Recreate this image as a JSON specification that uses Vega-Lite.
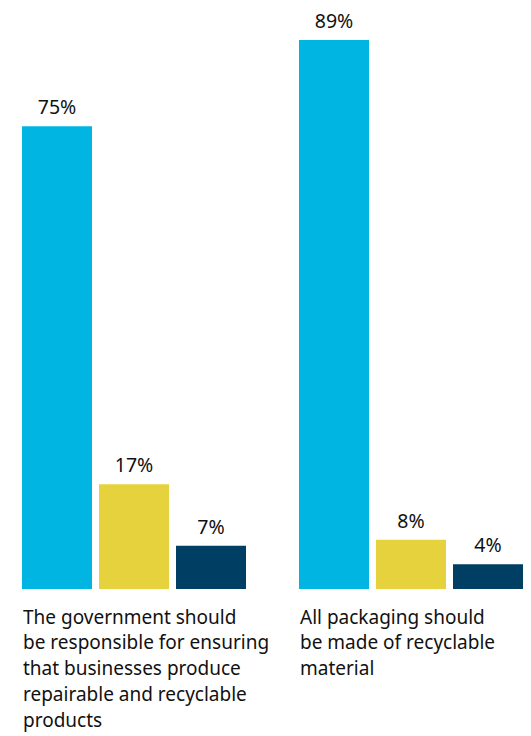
{
  "$schema": "https://vega.github.io/schema/vega-lite/v6.json",
  "width": 501,
  "height": 549,
  "autosize": {"type": "none"},
  "padding": {"left": 22, "top": 40, "right": 8, "bottom": 147},
  "background": "white",
  "config": {"view": {"stroke": null}, "font": "Noto Sans"},
  "data": {
    "values": [
      {"statement": "The government should|be responsible for ensuring|that businesses produce|repairable and recyclable|products", "response": "Agree", "value": 0.75},
      {"statement": "The government should|be responsible for ensuring|that businesses produce|repairable and recyclable|products", "response": "Neither", "value": 0.17},
      {"statement": "The government should|be responsible for ensuring|that businesses produce|repairable and recyclable|products", "response": "Disagree", "value": 0.07},
      {"statement": "All packaging should|be made of recyclable|material", "response": "Agree", "value": 0.89},
      {"statement": "All packaging should|be made of recyclable|material", "response": "Neither", "value": 0.08},
      {"statement": "All packaging should|be made of recyclable|material", "response": "Disagree", "value": 0.04}
    ]
  },
  "encoding": {
    "x": {
      "field": "statement",
      "type": "nominal",
      "sort": null,
      "scale": {"paddingInner": 0.1913, "paddingOuter": 0},
      "axis": {
        "title": null,
        "domain": false,
        "ticks": false,
        "labelAngle": 0,
        "labelAlign": "left",
        "labelBaseline": "top",
        "labelOffset": -111,
        "labelPadding": 19,
        "labelFontSize": 19,
        "labelLineHeight": 25.8,
        "labelLimit": 0,
        "labelColor": "#111111",
        "labelExpr": "split(datum.label, '|')"
      }
    },
    "xOffset": {
      "field": "response",
      "type": "nominal",
      "sort": ["Agree", "Neither", "Disagree"],
      "scale": {"paddingInner": 0.0909, "paddingOuter": 0}
    },
    "y": {
      "field": "value",
      "type": "quantitative",
      "scale": {"domain": [0, 0.89], "nice": false, "zero": true},
      "axis": null
    }
  },
  "layer": [
    {
      "mark": {"type": "bar"},
      "encoding": {
        "color": {
          "field": "response",
          "type": "nominal",
          "scale": {"domain": ["Agree", "Neither", "Disagree"], "range": ["#00B5E2", "#E6D23C", "#003F63"]},
          "legend": null
        }
      }
    },
    {
      "mark": {"type": "text", "baseline": "alphabetic", "dy": -12, "fontSize": 19.5, "color": "#111111"},
      "encoding": {
        "text": {"field": "value", "type": "quantitative", "format": ".0%"}
      }
    }
  ]
}
